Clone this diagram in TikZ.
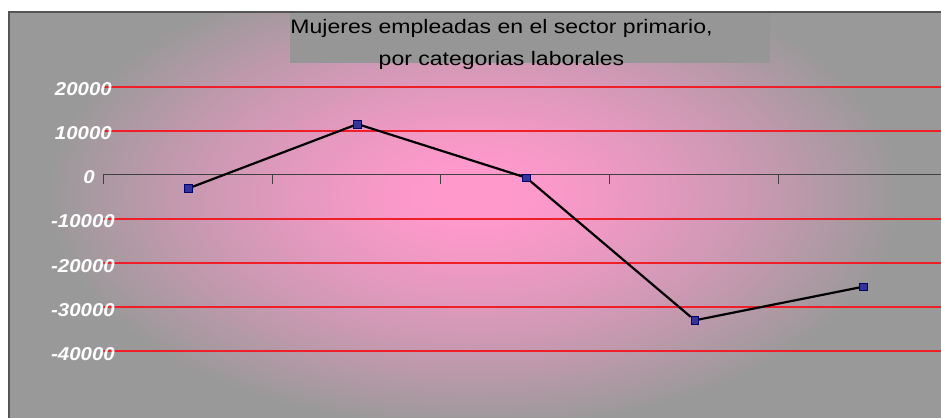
\documentclass[tikz,border=0pt]{standalone}
\usepackage{fontspec}
\usepackage{graphicx}
\setmainfont{Liberation Sans}
\definecolor{pinkc}{RGB}{255,153,204}
\definecolor{grayc}{RGB}{153,153,153}
\definecolor{titlegray}{RGB}{150,150,150}
\definecolor{gridred}{RGB}{240,30,40}
\definecolor{framec}{RGB}{85,85,85}
\definecolor{markfill}{RGB}{51,51,153}
\definecolor{markdraw}{RGB}{0,0,110}
\tikzset{
  ylab/.style={anchor=base east, text=white, inner sep=0pt,
    font=\fontsize{18.6bp}{19bp}\selectfont\bfseries\itshape},
  ttl/.style={anchor=base, text=black, inner sep=0pt,
    font=\fontsize{19.5bp}{20bp}\selectfont},
  gridline/.style={fill=gridred},
  axisline/.style={draw=black!75, line width=1bp},
  marker/.style={rectangle, draw=markdraw, fill=markfill, line width=0.6bp,
    minimum size=7.5bp, inner sep=0pt},
  dataline/.style={draw=black, line width=2.2bp}
}
\begin{document}
\begin{tikzpicture}[x=1bp,y=-1bp]
\useasboundingbox (0,0) rectangle (941,417);
\fill[white] (0,0) rectangle (941,417);
% background: stepped radial glow
\begin{scope}
  \clip (9,12) rectangle (945,421);
  \fill[grayc] (9,12) rectangle (945,421);
  \foreach \i in {0,...,79}{
    \pgfmathsetmacro{\fr}{1-\i/80}
    \pgfmathsetmacro{\pc}{min(100,100*(1-\fr^1.4)/0.95)}
    \fill[pinkc!\pc!grayc] (475,195) ellipse [x radius={430*\fr}, y radius={235*\fr}];
  }
\end{scope}
\draw[framec, line width=1.6bp] (9,421) -- (9,12) -- (945,12);
% title box
\fill[titlegray] (290,13) rectangle (770,62.5);
\node[ttl] (t1) at (501.5,33.3) {\scalebox{1.18}[1]{Mujeres empleadas en el sector primario,}};
\node[ttl] (t2) at (501.5,65.5) {\scalebox{1.18}[1]{por categorias laborales}};
% grid lines (thin filled bands)
\foreach \yy in {86,130,218,262,306,350}
  \path[gridline] (103,\yy) rectangle (945,\yy+2);
% axis
\path[axisline] (103,174.6) -- (945,174.6);
\foreach \xx in {103.3,272.1,440.9,609.7,778.5}
  \path[axisline] (\xx,174.6) -- (\xx,183.5);
% labels
\node[ylab] (l20) at (112,95) {\scalebox{1.1}[1]{20000}};
\node[ylab] (l10) at (112,139.3) {\scalebox{1.1}[1]{10000}};
\node[ylab] (l0) at (95,183.6) {\scalebox{1.1}[1]{0}};
\node[ylab] (lm10) at (115,227.9) {\scalebox{1.1}[1]{-10000}};
\node[ylab] (lm20) at (115,272.2) {\scalebox{1.1}[1]{-20000}};
\node[ylab] (lm30) at (115,316.5) {\scalebox{1.1}[1]{-30000}};
\node[ylab] (lm40) at (115,360.8) {\scalebox{1.1}[1]{-40000}};
% data
\node[marker] (p1) at (188.5,188.3) {};
\node[marker] (p2) at (357.5,124.1) {};
\node[marker] (p3) at (526.3,177.7) {};
\node[marker] (p4) at (694.8,320.3) {};
\node[marker] (p5) at (863.3,286.7) {};
\path[dataline] (p1) -- (p2) -- (p3) -- (p4) -- (p5);
\end{tikzpicture}
\end{document}
